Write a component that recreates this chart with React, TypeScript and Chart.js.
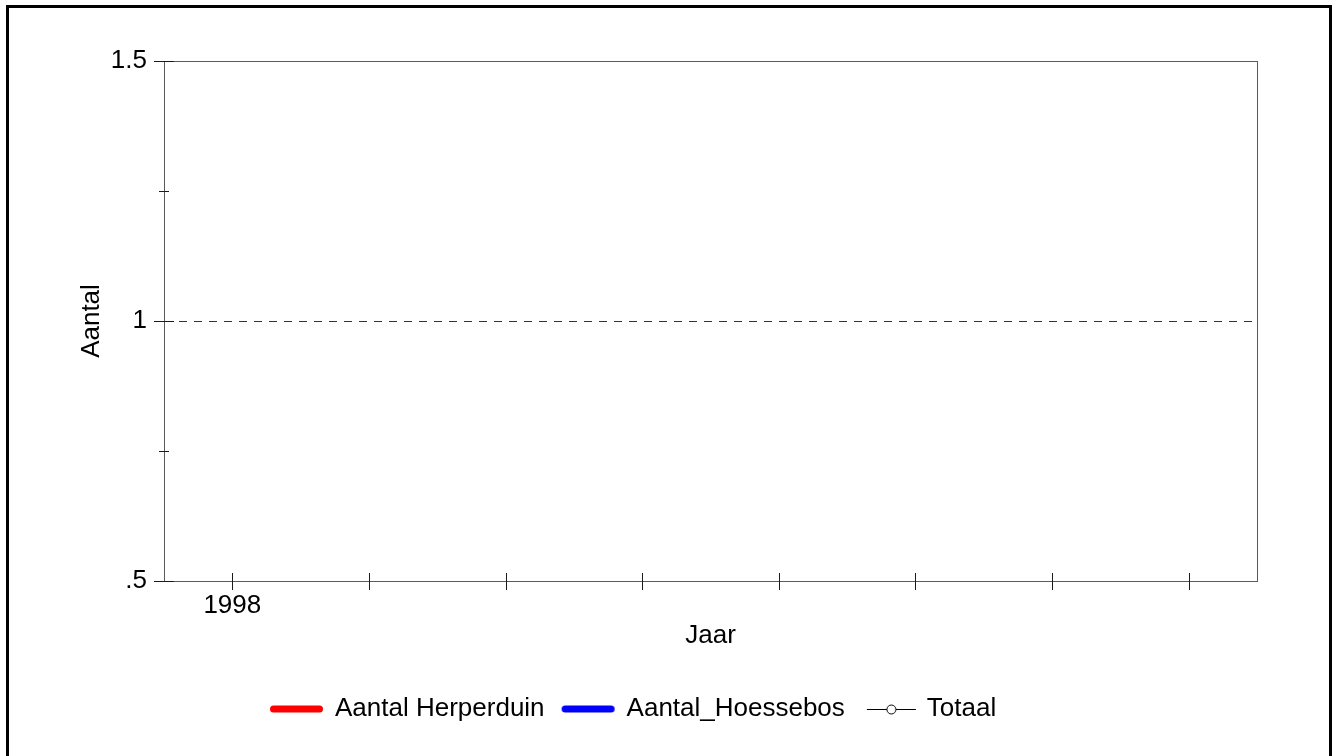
import React, { useEffect, useRef } from 'react';
import { Chart, registerables } from 'chart.js';

Chart.register(...registerables);

// ---- data ----
const YEARS = [1998, 1999, 2000, 2001, 2002, 2003, 2004, 2005];
const YEAR_LABELS = ['1998', '', '', '', '', '', '', ''];
const X_MIN = 1997.5;
const X_MAX = 2005.5;
const Y_TICKS = [0.5, 0.75, 1, 1.25, 1.5];
const Y_TICK_LABELS = ['.5', '', '1', '', '1.5'];
const Y_MIN = 0.5;
const Y_MAX = 1.5;
const REFERENCE_VALUE = 1;

const HERPERDUIN: { x: number; y: number }[] = [];
const HOESSEBOS: { x: number; y: number }[] = [];
const TOTAAL: { x: number; y: number }[] = [];

const SERIES_NAMES = ['Aantal Herperduin', 'Aantal_Hoessebos', 'Totaal'];
const SERIES_COLORS = ['#ff0000', '#0000ff', '#000000'];

// ---- layout / style constants ----
const W = 1339;
const H = 756;
const FONT = "'Liberation Sans', Arial, sans-serif";
const FS = 26;
const LEGEND_PAD = 17;
const LEGEND_LEFT = 253;
const LEGEND_TOP = 679;

const near = (a: number, b: number) => Math.abs(a - b) < 1e-6;

function lineIcon(color: string): HTMLCanvasElement {
  const c = document.createElement('canvas');
  c.width = 56;
  c.height = 10;
  const g = c.getContext('2d')!;
  g.strokeStyle = color;
  g.lineWidth = 7;
  g.lineCap = 'round';
  g.beginPath();
  g.moveTo(5.5, 5);
  g.lineTo(51.5, 5);
  g.stroke();
  return c;
}

function markerIcon(color: string): HTMLCanvasElement {
  const c = document.createElement('canvas');
  c.width = 64;
  c.height = 14;
  const g = c.getContext('2d')!;
  g.strokeStyle = color;
  g.lineWidth = 1;
  g.beginPath();
  g.moveTo(11, 7.5);
  g.lineTo(60, 7.5);
  g.stroke();
  g.beginPath();
  g.arc(35.5, 7.5, 4.5, 0, Math.PI * 2);
  g.fillStyle = '#ffffff';
  g.fill();
  g.stroke();
  return c;
}

const framePlugin = {
  id: 'frameAndTicks',
  afterDraw(chart: any) {
    const { ctx, chartArea, scales } = chart;
    const { left, right, top, bottom } = chartArea;
    const x = scales.x;
    const y = scales.y;
    ctx.save();
    ctx.strokeStyle = '#5a5a5a';
    ctx.lineWidth = 1;
    ctx.strokeRect(Math.round(left) + 0.5, Math.round(top) + 0.5, Math.round(right - left), Math.round(bottom - top));
    ctx.strokeStyle = '#1a1a1a';
    y.ticks.forEach((t: any) => {
      const idx = Y_TICKS.findIndex((v) => near(v, t.value));
      const major = idx >= 0 && Y_TICK_LABELS[idx] !== '';
      const len = major ? 10 : 5;
      const py = Math.round(y.getPixelForValue(t.value)) + 0.5;
      ctx.beginPath();
      ctx.moveTo(left - len, py);
      ctx.lineTo(left + len, py);
      ctx.stroke();
    });
    x.ticks.forEach((t: any) => {
      const px = Math.round(x.getPixelForValue(t.value)) + 0.5;
      ctx.beginPath();
      ctx.moveTo(px, bottom - 8);
      ctx.lineTo(px, bottom + 9);
      ctx.stroke();
    });
    ctx.restore();
  },
};

const legendPlacer = {
  id: 'legendPlacer',
  afterLayout(chart: any) {
    const lg = chart.legend;
    if (!lg) return;
    lg.left = LEGEND_LEFT;
    lg.top = LEGEND_TOP;
  },
};

export default function App() {
  const ref = useRef<HTMLCanvasElement | null>(null);

  useEffect(() => {
    if (!ref.current) return;
    const icons = [lineIcon(SERIES_COLORS[0]), lineIcon(SERIES_COLORS[1]), markerIcon(SERIES_COLORS[2])];
    const seriesData = [HERPERDUIN, HOESSEBOS, TOTAAL];

    const chart = new Chart(ref.current, {
      type: 'line',
      data: {
        datasets: SERIES_NAMES.map((name, i) => ({
          label: name,
          data: seriesData[i],
          borderColor: SERIES_COLORS[i],
          backgroundColor: SERIES_COLORS[i],
          borderWidth: i < 2 ? 6 : 1,
          pointRadius: i < 2 ? 0 : 4.5,
          pointStyle: 'circle',
          pointBackgroundColor: '#ffffff',
          pointBorderColor: SERIES_COLORS[i],
          fill: false,
        })),
      },
      options: {
        animation: false,
        responsive: false,
        devicePixelRatio: 1,
        parsing: false as any,
        layout: { padding: { left: 0, right: 82, top: 61, bottom: 0 } },
        plugins: {
          tooltip: { enabled: false },
          legend: {
            display: true,
            position: 'bottom',
            align: 'start',
            maxHeight: 40,
            labels: {
              usePointStyle: true,
              pointStyleWidth: 52,
              boxHeight: FS,
              padding: LEGEND_PAD,
              color: '#000000',
              font: { family: FONT, size: FS },
              generateLabels: (c: any) => {
                const items = Chart.defaults.plugins.legend.labels.generateLabels(c);
                return items.map((it: any, i: number) => ({ ...it, pointStyle: icons[i] }));
              },
            },
          },
        },
        scales: {
          x: {
            type: 'linear',
            min: X_MIN,
            max: X_MAX,
            afterBuildTicks: (scale: any) => {
              scale.ticks = YEARS.map((v) => ({ value: v }));
            },
            afterFit: (scale: any) => {
              scale.height = 135;
            },
            grid: { display: false, drawTicks: false },
            border: { display: false },
            ticks: {
              autoSkip: false,
              maxRotation: 0,
              padding: 9,
              color: '#000000',
              font: { family: FONT, size: FS },
              callback: (value: any) => {
                const idx = YEARS.findIndex((v) => near(v, Number(value)));
                return idx >= 0 ? YEAR_LABELS[idx] : '';
              },
            },
            title: {
              display: true,
              text: 'Jaar',
              color: '#000000',
              font: { family: FONT, size: FS },
              padding: { top: 0, bottom: 65 },
            },
          },
          y: {
            type: 'linear',
            min: Y_MIN,
            max: Y_MAX,
            afterBuildTicks: (scale: any) => {
              scale.ticks = Y_TICKS.map((v) => ({ value: v }));
            },
            afterFit: (scale: any) => {
              scale.width = 164;
            },
            grid: {
              display: true,
              drawTicks: false,
              color: '#333333',
              lineWidth: (ctx: any) => (ctx.tick && near(ctx.tick.value, REFERENCE_VALUE) ? 1 : 0),
            },
            border: { display: false, dash: [8, 7] },
            ticks: {
              padding: 17,
              color: '#000000',
              font: { family: FONT, size: FS },
              callback: (value: any) => {
                const idx = Y_TICKS.findIndex((v) => near(v, Number(value)));
                return idx >= 0 ? Y_TICK_LABELS[idx] : '';
              },
            },
            title: {
              display: true,
              text: 'Aantal',
              color: '#000000',
              font: { family: FONT, size: FS },
              padding: { top: 76, bottom: 0 },
            },
          },
        },
      } as any,
      plugins: [framePlugin, legendPlacer],
    });
    return () => chart.destroy();
  }, []);

  return (
    <div style={{ position: 'fixed', left: 0, top: 0, width: W, height: H, overflow: 'hidden', background: '#ffffff' }}>
      <canvas ref={ref} width={W} height={H} style={{ position: 'absolute', left: 0, top: 0, width: W, height: H, display: 'block' }} />
      <div
        style={{
          position: 'absolute',
          left: 6,
          top: 5,
          width: 1326,
          height: 820,
          boxSizing: 'border-box',
          border: '3px solid #000000',
          pointerEvents: 'none',
        }}
      />
    </div>
  );
}
